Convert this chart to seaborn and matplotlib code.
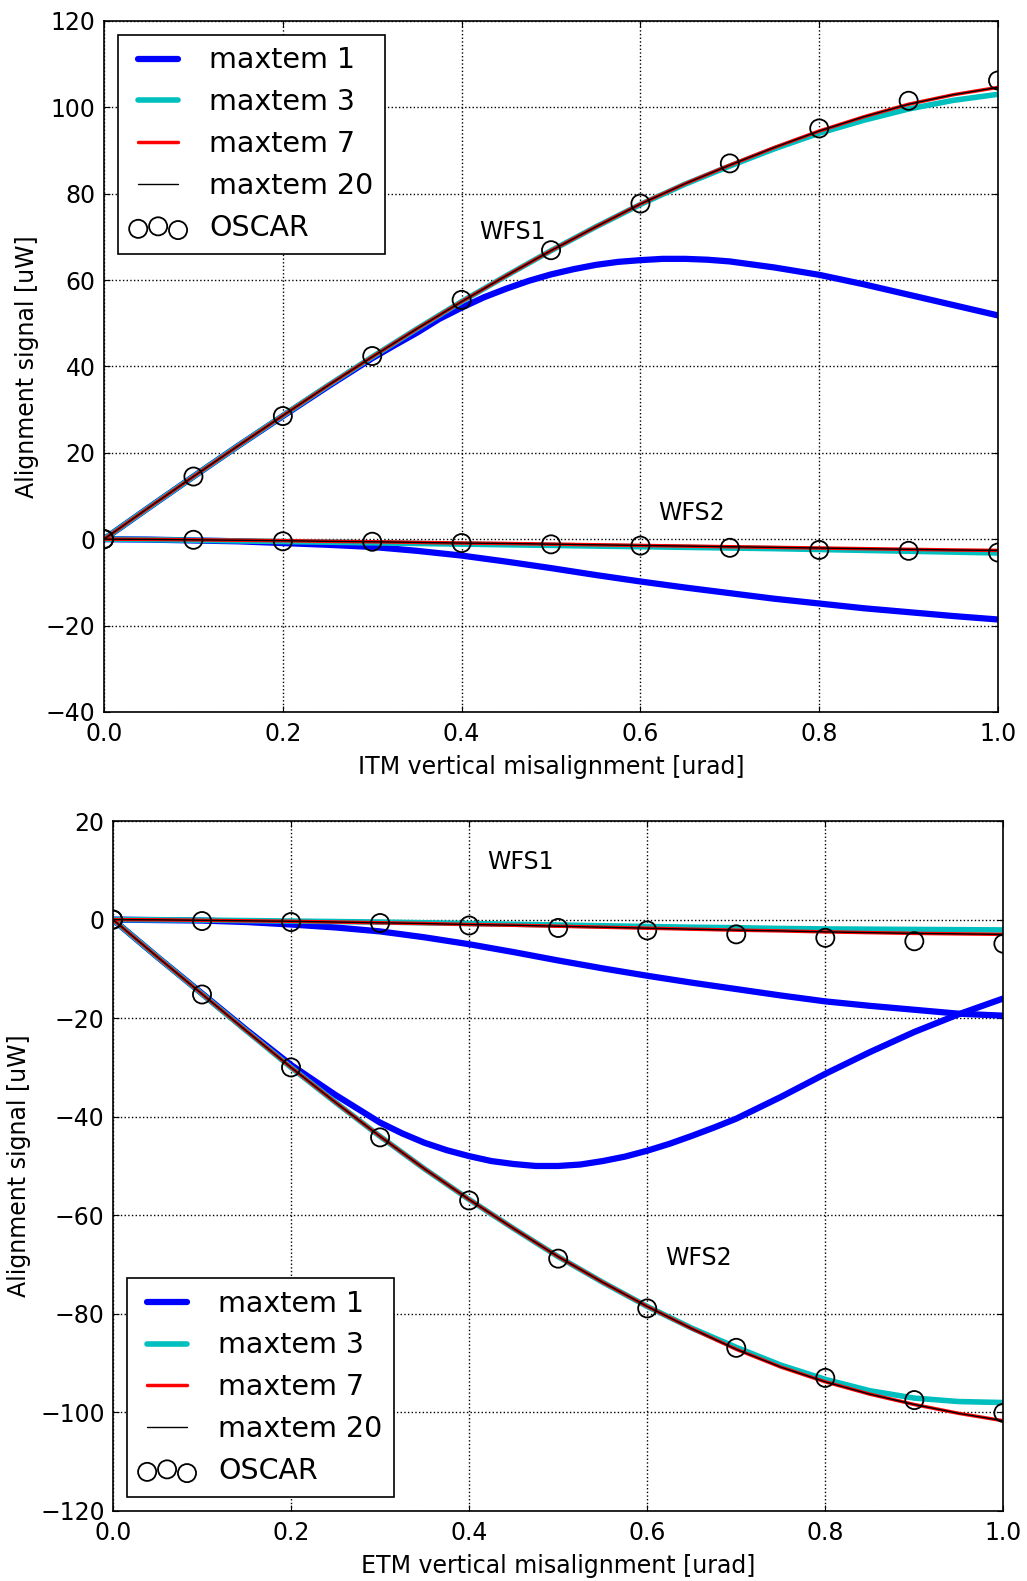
import numpy as np
import pandas as pd
import seaborn as sns
import matplotlib
matplotlib.use("Agg")
import matplotlib.pyplot as plt

# Data
# -----------------------------------------------------------------------
x_line = [0.00, 0.05, 0.10, 0.15, 0.20, 0.25, 0.30, 0.35, 0.40, 0.45, 0.50,
          0.55, 0.60, 0.65, 0.70, 0.75, 0.80, 0.85, 0.90, 0.95, 1.00]
# finer sampling where the maxtem 1 curves bend the most
x_fine = [0.00, 0.05, 0.10, 0.15, 0.20, 0.25, 0.30, 0.325, 0.35, 0.375, 0.40,
          0.425, 0.45, 0.475, 0.50, 0.525, 0.55, 0.575, 0.60, 0.625, 0.65,
          0.675, 0.70, 0.75, 0.80, 0.85, 0.90, 0.95, 1.00]
x_oscar = [0.0, 0.1, 0.2, 0.3, 0.4, 0.5, 0.6, 0.7, 0.8, 0.9, 1.0]

# ITM misalignment, WFS1
itm_wfs1_m1 = [0, 7.3, 14.5, 21.6, 28.5, 35.3, 41.9, 44.9, 47.8, 51.0, 53.6,
               56.0, 58.0, 59.8, 61.3, 62.5, 63.5, 64.2, 64.6, 64.9, 64.9,
               64.7, 64.3, 62.9, 61.2, 59.0, 56.6, 54.2, 51.8]
itm_wfs1_m3 = [0, 7.3, 14.5, 21.6, 28.6, 35.5, 42.2, 48.7, 55.0, 61.0, 66.8,
               72.3, 77.5, 82.2, 86.4, 90.4, 94.0, 97.0, 99.6, 101.6, 103.0]
itm_wfs1_m7 = [0, 7.3, 14.5, 21.6, 28.6, 35.5, 42.2, 48.7, 55.0, 61.0, 66.8,
               72.3, 77.6, 82.3, 86.6, 90.7, 94.5, 97.8, 100.7, 102.9, 104.6]
itm_wfs1_m20 = itm_wfs1_m7
itm_wfs1_oscar = [0, 14.5, 28.5, 42.4, 55.4, 66.9, 77.7, 87.0, 95.1, 101.5, 106.2]

# ITM misalignment, WFS2
itm_wfs2_m1 = [0, -0.1, -0.3, -0.5, -0.9, -1.3, -1.8, -2.7, -3.8, -5.2, -6.7,
               -8.3, -9.8, -11.2, -12.5, -13.8, -14.9, -16.0, -16.9, -17.8, -18.6]
itm_wfs2_m3 = [0, -0.1, -0.25, -0.4, -0.55, -0.7, -0.85, -1.0, -1.15, -1.3, -1.45,
               -1.6, -1.75, -1.9, -2.05, -2.2, -2.4, -2.6, -2.8, -3.0, -3.2]
itm_wfs2_m7 = [0, -0.05, -0.15, -0.25, -0.35, -0.5, -0.6, -0.75, -0.9, -1.0, -1.15,
               -1.3, -1.45, -1.6, -1.75, -1.9, -2.05, -2.2, -2.35, -2.5, -2.6]
itm_wfs2_m20 = itm_wfs2_m7
itm_wfs2_oscar = [0, -0.15, -0.5, -0.6, -0.9, -1.2, -1.5, -2.0, -2.5, -2.7, -3.1]

# ETM misalignment, WFS1
etm_wfs1_m1 = [0, -0.1, -0.2, -0.5, -1.0, -1.6, -2.4, -3.6, -5.0, -6.6, -8.3,
               -9.9, -11.4, -12.8, -14.1, -15.4, -16.6, -17.5, -18.3, -19.1, -19.5]
etm_wfs1_m3 = [0, -0.05, -0.1, -0.2, -0.3, -0.4, -0.5, -0.65, -0.8, -0.95, -1.1,
               -1.25, -1.4, -1.55, -1.65, -1.8, -1.9, -1.95, -2.0, -2.05, -2.1]
etm_wfs1_m7 = [0, -0.05, -0.15, -0.25, -0.35, -0.5, -0.65, -0.8, -1.0, -1.15, -1.35,
               -1.55, -1.75, -1.95, -2.15, -2.3, -2.5, -2.65, -2.8, -2.9, -3.0]
etm_wfs1_m20 = etm_wfs1_m7
etm_wfs1_oscar = [0, -0.3, -0.5, -0.7, -1.2, -1.7, -2.2, -3.0, -3.7, -4.4, -4.9]

# ETM misalignment, WFS2
etm_wfs2_m1 = [0, -7.6, -15.0, -22.4, -29.5, -35.6, -41.2, -43.4, -45.3, -46.8, -48.0,
               -49.0, -49.6, -50.0, -50.0, -49.7, -49.0, -48.1, -46.9, -45.5, -43.9,
               -42.2, -40.4, -36.0, -31.3, -26.9, -22.8, -19.2, -16.0]
etm_wfs2_m3 = [0, -7.6, -15.1, -22.6, -30.0, -37.1, -44.0, -50.6, -56.8, -62.7, -68.4,
               -73.6, -78.5, -82.9, -86.8, -90.4, -93.3, -95.6, -97.1, -97.8, -98.0]
etm_wfs2_m7 = [0, -7.6, -15.1, -22.6, -30.0, -37.1, -44.0, -50.6, -56.8, -62.7, -68.4,
               -73.6, -78.5, -83.0, -87.2, -90.8, -93.8, -96.3, -98.4, -100.2, -101.7]
etm_wfs2_m20 = etm_wfs2_m7
etm_wfs2_oscar = [0, -15.2, -30.0, -44.2, -57.0, -68.8, -78.9, -86.9, -93.0, -97.5, -100.1]

maxtem_labels = ["maxtem 1", "maxtem 3", "maxtem 7", "maxtem 20"]
maxtem_colors = ["b", "c", "r", "k"]
maxtem_widths = [4.5, 4.0, 2.5, 1.0]

# Style (old matplotlib "classic" look)
# -----------------------------------------------------------------------
sns.set_style("ticks", {"axes.grid": True, "grid.color": "k", "grid.linestyle": ":",
                        "xtick.direction": "in", "ytick.direction": "in",
                        "xtick.top": True, "ytick.right": True,
                        "axes.edgecolor": "k", "text.color": "k",
                        "axes.labelcolor": "k", "xtick.color": "k", "ytick.color": "k"})
plt.rcParams["font.family"] = ["DejaVu Sans"]
plt.rcParams["grid.linewidth"] = 1.0
plt.rcParams["axes.linewidth"] = 1.2
plt.rcParams["xtick.labelsize"] = 17
plt.rcParams["ytick.labelsize"] = 17
plt.rcParams["xtick.major.pad"] = 7
plt.rcParams["ytick.major.pad"] = 6
plt.rcParams["xtick.major.size"] = 4
plt.rcParams["ytick.major.size"] = 4


def draw_panel(ax, curves_1, curves_2, oscar_1, oscar_2, xlabel, ylim, yticks,
               texts, legend_loc, ylabelpad):
    for i in range(4):
        xs1, ys1 = curves_1[i]
        xs2, ys2 = curves_2[i]
        sns.lineplot(x=xs1, y=ys1, ax=ax, color=maxtem_colors[i],
                     lw=maxtem_widths[i], label=maxtem_labels[i], sort=False)
        sns.lineplot(x=xs2, y=ys2, ax=ax, color=maxtem_colors[i],
                     lw=maxtem_widths[i], sort=False)
    sns.scatterplot(x=x_oscar, y=oscar_1, ax=ax, s=170, facecolor="none",
                    edgecolor="k", linewidth=1.3, label="OSCAR", zorder=5)
    sns.scatterplot(x=x_oscar, y=oscar_2, ax=ax, s=170, facecolor="none",
                    edgecolor="k", linewidth=1.3, zorder=5)
    for (tx, ty, tt) in texts:
        ax.text(tx, ty, tt, fontsize=17)
    ax.set_xlim(0, 1)
    ax.set_ylim(*ylim)
    ax.set_xticks([0.0, 0.2, 0.4, 0.6, 0.8, 1.0])
    ax.set_xticklabels(["0.0", "0.2", "0.4", "0.6", "0.8", "1.0"])
    ax.set_yticks(yticks)
    ax.set_xlabel(xlabel, fontsize=17, labelpad=6.5)
    ax.set_ylabel("Alignment signal [uW]", fontsize=17, labelpad=ylabelpad)
    for sp in ax.spines.values():
        sp.set_visible(True)
    leg = ax.legend(loc=legend_loc, fontsize=20.5, frameon=True, fancybox=False,
                    edgecolor="k", framealpha=1, numpoints=2, scatterpoints=3,
                    scatteryoffsets=[0.375, 0.5, 0.3125], handlelength=2.0,
                    handletextpad=0.8, labelspacing=0.49, borderaxespad=0.5,
                    borderpad=0.4)
    leg.get_frame().set_linewidth(1.2)
    return ax


fig = plt.figure(figsize=(10.27, 15.81), dpi=100)
ax1 = fig.add_axes([0.1013, 0.5497, 0.8705, 0.4371])
ax2 = fig.add_axes([0.1100, 0.0443, 0.8670, 0.4364])

draw_panel(ax1,
           [(x_fine, itm_wfs1_m1), (x_line, itm_wfs1_m3), (x_line, itm_wfs1_m7),
            (x_line, itm_wfs1_m20)],
           [(x_line, itm_wfs2_m1), (x_line, itm_wfs2_m3), (x_line, itm_wfs2_m7),
            (x_line, itm_wfs2_m20)],
           itm_wfs1_oscar, itm_wfs2_oscar,
           "ITM vertical misalignment [urad]", (-40, 120),
           [-40, -20, 0, 20, 40, 60, 80, 100, 120],
           [(0.42, 69.5, "WFS1"), (0.62, 4.5, "WFS2")], "upper left", 4.9)
draw_panel(ax2,
           [(x_line, etm_wfs1_m1), (x_line, etm_wfs1_m3), (x_line, etm_wfs1_m7),
            (x_line, etm_wfs1_m20)],
           [(x_fine, etm_wfs2_m1), (x_line, etm_wfs2_m3), (x_line, etm_wfs2_m7),
            (x_line, etm_wfs2_m20)],
           etm_wfs1_oscar, etm_wfs2_oscar,
           "ETM vertical misalignment [urad]", (-120, 20),
           [-120, -100, -80, -60, -40, -20, 0, 20],
           [(0.42, 10.2, "WFS1"), (0.62, -70, "WFS2")], "lower left", 6.7)

fig.savefig("out.png", dpi=100, facecolor="white")
